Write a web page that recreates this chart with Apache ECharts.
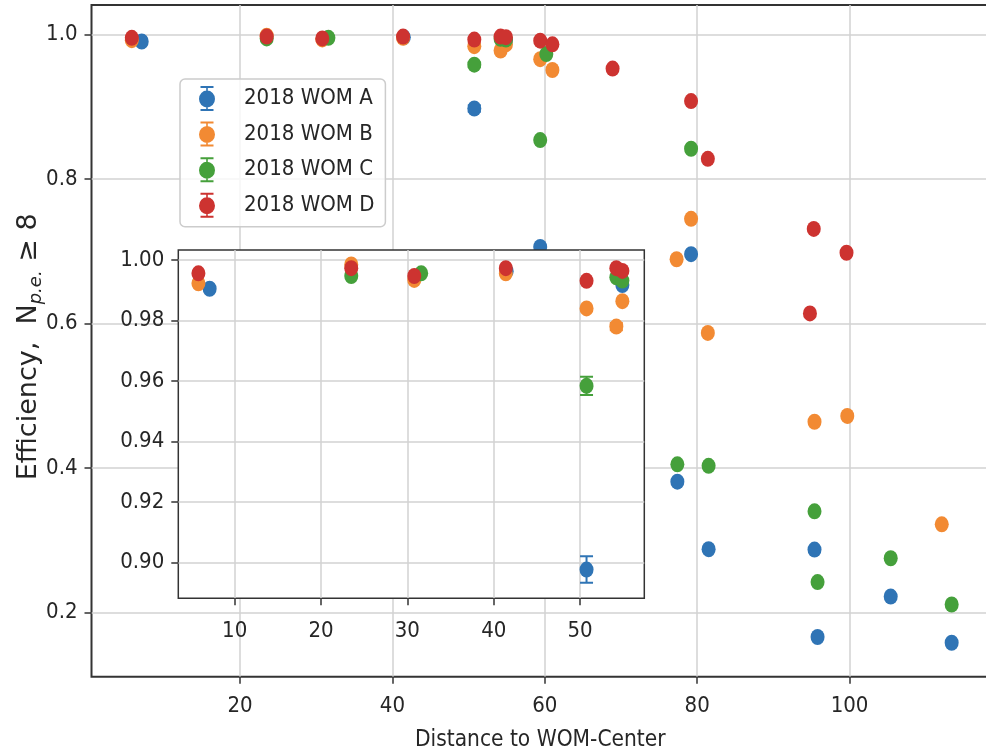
<!DOCTYPE html>
<html><head><meta charset="utf-8">
<script src="https://cdn.jsdelivr.net/npm/echarts@6/dist/echarts.min.js"></script>
<style>html,body{margin:0;padding:0;background:#fff}#c{width:986px;height:749px}</style>
</head><body><div id="c"></div>
<script>
// ---- data ----
const seriesNames = ['2018 WOM A', '2018 WOM B', '2018 WOM C', '2018 WOM D'];

const xA = [7.1, 41.5, 50.75, 54.9, 59.4, 77.4, 79.2, 81.5, 95.4, 95.8, 105.4, 113.4];
const yA = [0.9905, 0.9963, 0.8977, 0.9917, 0.706, 0.381, 0.696, 0.2875, 0.287, 0.166, 0.222, 0.158];
const eA = [0, 0, 0.0044, 0, 0, 0, 0, 0, 0, 0, 0, 0];

const xB = [5.8, 23.5, 30.8, 41.4, 50.75, 54.2, 54.9, 59.4, 61.0, 77.3, 79.2, 81.4, 95.4, 99.7, 112.1];
const yB = [0.9923, 0.9985, 0.9934, 0.9956, 0.984, 0.978, 0.9864, 0.966, 0.951, 0.689, 0.745, 0.587, 0.464, 0.472, 0.322];
const eB = [0, 0, 0, 0, 0, 0.0012, 0, 0, 0, 0, 0, 0, 0, 0, 0];

const xC = [23.5, 31.6, 50.75, 54.2, 54.9, 59.4, 60.2, 77.4, 79.2, 81.5, 95.4, 95.8, 105.4, 113.4];
const yC = [0.9947, 0.9956, 0.9584, 0.9943, 0.9932, 0.854, 0.973, 0.405, 0.842, 0.403, 0.340, 0.242, 0.275, 0.211];
const eC = [0, 0, 0.003, 0, 0, 0, 0, 0, 0, 0, 0, 0, 0, 0];

const xD = [5.8, 23.5, 30.8, 41.4, 50.75, 54.2, 54.9, 59.4, 61.0, 68.9, 79.2, 81.4, 94.8, 95.3, 99.6];
const yD = [0.9956, 0.9973, 0.9947, 0.9973, 0.9931, 0.9973, 0.9964, 0.9916, 0.9866, 0.953, 0.908, 0.828, 0.614, 0.731, 0.698];
const eD = [0, 0, 0, 0, 0, 0, 0, 0, 0, 0, 0, 0, 0, 0, 0];

const mainXTicks = [20, 40, 60, 80, 100];
const mainYTicks = [0.2, 0.4, 0.6, 0.8, 1.0];
const insetXTicks = [10, 20, 30, 40, 50];
const insetYTicks = [0.90, 0.92, 0.94, 0.96, 0.98, 1.00];

const xLabel = 'Distance to WOM-Center';

// ---- style ----
const colors = ['#2f74b5', '#f28a33', '#45a03b', '#cd3330'];
const TXT = '#262626';
const CF = '"DejaVu Sans Condensed", "DejaVu Sans", sans-serif';
const RF = '"DejaVu Sans", sans-serif';
const GRIDC = '#d2d2d2';
const dot = 'path://M7,0A7,8 0 1,1 6.99,0Z';
// error-bar style legend glyph, left-aligned inside a 40x25 box (last sub-path is an empty spacer)
const legendIcon = 'path://M1.5,0H14.5V2H8.8V23H14.5V25H1.5V23H7.2V2H1.5Z M8,4.5A8,8.5 0 1,1 7.99,4.5Z M40,0L40,0.01Z';

const all = [[xA, yA, eA], [xB, yB, eB], [xC, yC, eC], [xD, yD, eD]];

function onTick(step, dec) {
  return v => Math.abs(v / step - Math.round(v / step)) < 1e-6 ? v.toFixed(dec) : '';
}

function makeAxis(grid, min, max, ticks, step, dec, margin, extra) {
  return Object.assign({
    type: 'value', gridIndex: grid, min: min, max: max, splitNumber: 5,
    axisLine: { show: false },
    axisTick: { show: true, length: 7, customValues: ticks, lineStyle: { color: '#333', width: 1.5 } },
    axisLabel: { customValues: ticks, formatter: onTick(step, dec), fontSize: 22, fontFamily: CF, color: TXT,
                 margin: margin },
    splitLine: { show: true, lineStyle: { color: GRIDC, width: 1.5 } }
  }, extra || {});
}

function errRender(color) {
  return function (params, api) {
    const e = api.value(2);
    if (!e) return null;
    const x = api.value(0), y = api.value(1);
    const p1 = api.coord([x, y + e]), p2 = api.coord([x, y - e]);
    const w = 6.5, st = { stroke: color, lineWidth: 2 };
    return { type: 'group', children: [
      { type: 'line', shape: { x1: p1[0], y1: p1[1], x2: p2[0], y2: p2[1] }, style: st },
      { type: 'line', shape: { x1: p1[0] - w, y1: p1[1], x2: p1[0] + w, y2: p1[1] }, style: st },
      { type: 'line', shape: { x1: p2[0] - w, y1: p2[1], x2: p2[0] + w, y2: p2[1] }, style: st }
    ] };
  };
}

const series = [];
all.forEach((s, i) => {
  const pts = s[0].map((x, k) => [x, s[1][k]]);
  const errs = s[0].map((x, k) => [x, s[1][k], s[2][k]]);
  series.push({ name: seriesNames[i], type: 'scatter', xAxisIndex: 0, yAxisIndex: 0, z: 2,
    symbol: dot, symbolSize: [14, 16], itemStyle: { color: colors[i], opacity: 1 }, data: pts });
  series.push({ name: 'err' + i, type: 'custom', xAxisIndex: 0, yAxisIndex: 0, z: 2,
    renderItem: errRender(colors[i]), data: errs });
  series.push({ name: 'in' + i, type: 'scatter', xAxisIndex: 1, yAxisIndex: 1, z: 7, clip: true,
    symbol: dot, symbolSize: [14, 16], itemStyle: { color: colors[i], opacity: 1 }, data: pts });
  series.push({ name: 'inerr' + i, type: 'custom', xAxisIndex: 1, yAxisIndex: 1, z: 7, clip: true,
    renderItem: errRender(colors[i]), data: errs });
});

const option = {
  animation: false,
  backgroundColor: '#fff',
  grid: [
    { left: 91.5, top: 5, right: -3, bottom: 72.3, show: true, borderColor: '#333', borderWidth: 2, z: 0,
      outerBoundsMode: 'none', containLabel: false },
    { left: 178.3, top: 250, width: 466, height: 348.3, show: true, backgroundColor: '#fff',
      borderColor: '#333', borderWidth: 1.5, z: 5, outerBoundsMode: 'none', containLabel: false }
  ],
  xAxis: [
    makeAxis(0, 0.51, 118.3, mainXTicks, 20, 0, 19, {
      name: xLabel, nameLocation: 'middle', nameGap: 52, nameMoveOverlap: false,
      nameTextStyle: { fontSize: 22.5, fontFamily: CF, color: TXT } }),
    makeAxis(1, 3.47, 57.44, insetXTicks, 10, 0, 22, { z: 6 })
  ],
  yAxis: [
    makeAxis(0, 0.111, 1.041, mainYTicks, 0.2, 1, 14, {
      name: '{a|Efficiency,  N}{s|p.e.}{a| ≥ 8}', nameLocation: 'middle', nameGap: 46, nameMoveOverlap: false,
      nameTextStyle: { color: TXT, padding: [0, 12, 0, 0], rich: {
        a: { fontSize: 27, fontFamily: RF, color: TXT, lineHeight: 34 },
        s: { fontSize: 18, fontFamily: RF, fontStyle: 'italic', color: TXT, lineHeight: 12, verticalAlign: 'bottom' }
      } } }),
    makeAxis(1, 0.8882, 1.0033, insetYTicks, 0.02, 2, 14, { z: 6 })
  ],
  legend: {
    orient: 'vertical', left: 180, top: 79, z: 8,
    padding: [7, 11, 9, 19], itemGap: 10.6, itemWidth: 40, itemHeight: 25, symbolKeepAspect: true,
    backgroundColor: 'rgba(255,255,255,0.8)', borderColor: '#cccccc', borderWidth: 1.5, borderRadius: 5,
    selectedMode: false,
    textStyle: { fontSize: 22, fontFamily: CF, color: TXT, lineHeight: 25 },
    data: seriesNames.map((n, i) => ({ name: n, icon: legendIcon, itemStyle: { color: colors[i] } }))
  },
  series: series
};

const chart = echarts.init(document.getElementById('c'), null, { renderer: 'canvas' });
chart.setOption(option);
</script>
</body></html>
